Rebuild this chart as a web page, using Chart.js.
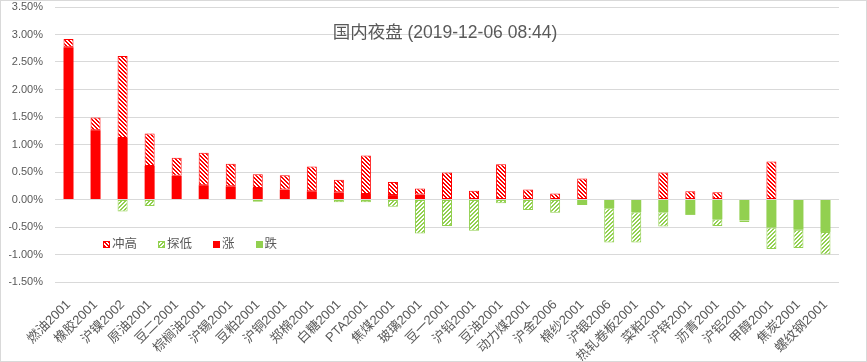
<!DOCTYPE html>
<html>
<head>
<meta charset="utf-8">
<title>国内夜盘</title>
<script src="https://cdn.jsdelivr.net/npm/chart.js@4.4.1/dist/chart.umd.min.js"></script>
<style>
  body { margin: 0; background: #fff; }
  .box {
    position: relative; width: 867px; height: 362px; box-sizing: border-box;
    border: 1px solid #d9d9d9;
    font-family: "Liberation Sans", "Noto Sans CJK SC", sans-serif; color: #595959;
  }
  .title {
    position: absolute; left: 444px; top: 21px; transform: translateX(-50%);
    font-size: 17.5px; line-height: 20px; white-space: nowrap;
  }
  .legend {
    position: absolute; left: 102px; top: 235px; display: flex; align-items: center;
    font-size: 12.5px; line-height: 16px;
  }
  .legend .item { display: flex; align-items: center; margin-right: 21px; }
  .legend .sw { width: 7px; height: 7px; box-sizing: border-box; margin-right: 2px; }
</style>
</head>
<body>
<div class="box">
  <canvas id="barChart"></canvas>
  <div class="title">国内夜盘 (2019-12-06 08:44)</div>
  <div class="legend" id="legend"></div>
</div>
<script>
const labels = ['燃油2001', '橡胶2001', '沪镍2002', '原油2001', '豆二2001', '棕榈油2001', '沪锡2001',
  '豆粕2001', '沪铜2001', '郑棉2001', '白糖2001', 'PTA2001', '焦煤2001', '玻璃2001', '豆一2001',
  '沪铅2001', '豆油2001', '动力煤2001', '沪金2006', '棉纱2001', '沪银2006', '热轧卷板2001',
  '菜粕2001', '沪锌2001', '沥青2001', '沪铝2001', '甲醇2001', '焦炭2001', '螺纹钢2001'];

// values in percent
const rise = [2.77, 1.26, 1.12, 0.61, 0.43, 0.26, 0.24, 0.21, 0.18, 0.15, 0.13, 0.10, 0.08, 0.09, 0,
  0, 0, 0, 0, 0, 0, 0, 0, 0, 0, 0, 0, 0, 0];
const fall = [0, 0, 0, 0, 0, 0, 0, 0, 0, 0, 0, 0, 0, 0, 0,
  0, 0, 0, 0, -0.10, -0.16, -0.23, -0.23, -0.28, -0.36, -0.38, -0.51, -0.55, -0.59];
const high = [0.15, 0.23, 1.49, 0.59, 0.33, 0.59, 0.41, 0.25, 0.26, 0.45, 0.23, 0.70, 0.24, 0.11, 0.49,
  0.16, 0.64, 0.18, 0.11, 0.38, 0, 0, 0.49, 0.15, 0.13, 0, 0.69, 0, 0];
const low = [0, 0, -0.22, -0.12, 0, 0, 0, -0.04, 0, 0, -0.05, -0.05, -0.13, -0.62, -0.48,
  -0.57, -0.07, -0.19, -0.24, 0, -0.62, -0.55, -0.26, 0, -0.12, -0.03, -0.39, -0.33, -0.41];

const red = '#ff0000';
const green = '#92d050';
const grey = '#595959';

// little hatch tiles, "down" = \ lines, "up" = / lines
function makeHatch(color, dir) {
    const c = document.createElement('canvas');
    c.width = 4;
    c.height = 4;
    const g = c.getContext('2d');
    g.fillStyle = '#fff';
    g.fillRect(0, 0, 4, 4);
    g.fillStyle = color;
    for (let i = 0; i < 4; i++) {
        const x = dir === 'down' ? i : 3 - i;
        g.fillRect(x, i, 1, 1);
        g.fillRect((x + 1) % 4, i, 1, 1);
    }
    return c;
}

const ctx = document.getElementById('barChart').getContext('2d');
const highTile = makeHatch(red, 'down');
const lowTile = makeHatch(green, 'up');
const highFill = ctx.createPattern(highTile, 'repeat');
const lowFill = ctx.createPattern(lowTile, 'repeat');

const barOpts = { barPercentage: 0.37, categoryPercentage: 1, borderSkipped: false };

const barChart = new Chart(ctx, {
    type: 'bar',
    data: {
        labels: labels,
        datasets: [
            { label: '涨', data: rise, backgroundColor: red, borderWidth: 0, ...barOpts },
            { label: '跌', data: fall, backgroundColor: green, borderWidth: 0, ...barOpts },
            { label: '冲高', data: high, backgroundColor: highFill, borderColor: red, borderWidth: 1, ...barOpts },
            { label: '探低', data: low, backgroundColor: lowFill, borderColor: green, borderWidth: 1, ...barOpts }
        ]
    },
    options: {
        responsive: true,
        maintainAspectRatio: false,
        animation: false,
        layout: { padding: { left: 8, right: 27, top: 6, bottom: 0 } },
        plugins: {
            legend: { display: false },
            tooltip: { enabled: false }
        },
        scales: {
            x: {
                stacked: true,
                grid: { display: false },
                border: { display: false },
                ticks: {
                    color: grey,
                    font: { family: '"Liberation Sans", "Noto Sans CJK SC", sans-serif', size: 13 },
                    minRotation: 45,
                    maxRotation: 45,
                    autoSkip: false,
                    padding: 7
                },
                // let the slanted labels run under the y labels like excel does
                afterFit: s => {
                    s.paddingLeft = 0;
                    s.paddingRight = 0;
                    s.height = 79;
                }
            },
            y: {
                stacked: true,
                min: -1.5,
                max: 3.5,
                grid: { color: '#d9d9d9', drawTicks: false },
                border: { display: false },
                ticks: {
                    stepSize: 0.5,
                    color: grey,
                    padding: 12,
                    font: { family: '"Liberation Sans", sans-serif', size: 11 },
                    callback: v => v.toFixed(2) + '%'
                },
                afterFit: s => {
                    s.paddingTop = 0;
                    s.paddingBottom = 0;
                    s.width = 46;
                }
            }
        }
    }
});

// legend sits inside the plot like the excel one
const legendOrder = [2, 3, 0, 1];
const legendBox = document.getElementById('legend');
legendOrder.forEach(i => {
    const ds = barChart.data.datasets[i];
    const item = document.createElement('span');
    item.className = 'item';
    const sw = document.createElement('span');
    sw.className = 'sw';
    if (i === 2) {
        sw.style.border = '1px solid ' + red;
        sw.style.backgroundImage = 'url(' + highTile.toDataURL() + ')';
    } else if (i === 3) {
        sw.style.border = '1px solid ' + green;
        sw.style.backgroundImage = 'url(' + lowTile.toDataURL() + ')';
    } else {
        sw.style.background = ds.backgroundColor;
    }
    item.appendChild(sw);
    item.appendChild(document.createTextNode(ds.label));
    legendBox.appendChild(item);
});
</script>
</body>
</html>
